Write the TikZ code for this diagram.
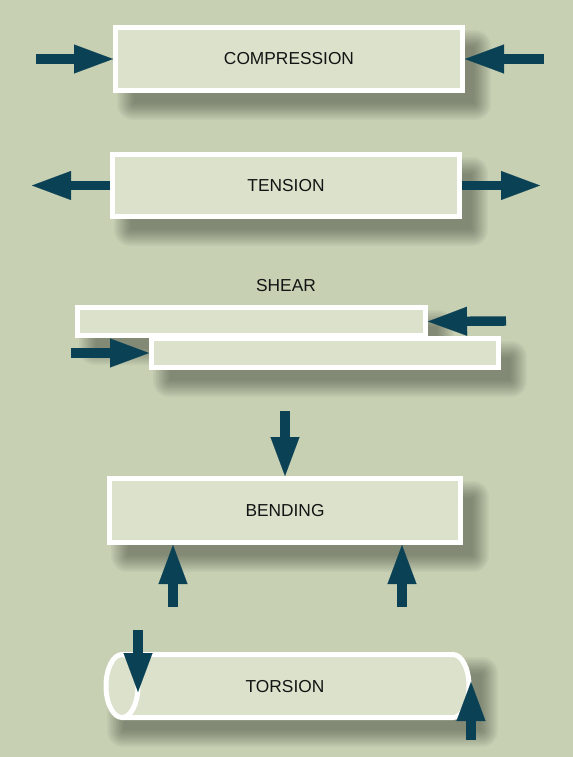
\documentclass[tikz,border=0pt]{standalone}
\usepackage{fontspec}
\setmainfont{Liberation Sans}
\usetikzlibrary{arrows.meta}
\definecolor{bg}{HTML}{C7D0B3}
\definecolor{boxfill}{HTML}{DCE1CC}
\definecolor{forcecol}{HTML}{0B4155}
% soft drop shadow behind a box given by its outer corners (px)
\newcommand{\dropshadow}[4]{%
  \foreach \k in {0,...,11}{%
    \pgfmathsetmacro{\ee}{11-1.5*\k}%
    \pgfmathsetmacro{\rr}{max(\ee+5,1)}%
    \fill[black, fill opacity=0.032, rounded corners=\rr*0.75pt]
      ({#1+15-\ee},{#2+16-\ee}) rectangle ({#3+15+\ee},{#4+16+\ee});
  }}
\begin{document}
\begin{tikzpicture}[x=0.75pt,y=-0.75pt,
  member/.style={rectangle, draw=white, line width=3.75pt, fill=boxfill, inner sep=0pt,
    font=\fontsize{13}{15}\selectfont, text=black!92},
  label/.style={font=\fontsize{13}{15}\selectfont, text=black!92, inner sep=0pt},
  forcearrow/.style={draw=forcecol, line width=7.1pt,
    -{Triangle[length=29.25pt, width=21.75pt, line width=0.1pt]}}]
\useasboundingbox[fill=bg] (0,0) rectangle (573,757);

% shadows
\dropshadow{113}{25}{465}{93}
\dropshadow{110}{152}{462}{219}
\dropshadow{75}{305}{428}{338}
\dropshadow{149}{336}{501}{370}
\dropshadow{107}{476}{463}{545}
\dropshadow{103}{652}{472}{720}

% COMPRESSION
\node[member, minimum width=347*0.75pt, minimum height=63*0.75pt] (comp) at (289,59) {COMPRESSION};
\coordinate (compL) at (36,59);
\coordinate (compR) at (544,59);
\draw[forcearrow] (compL) -- (comp.west);
\draw[forcearrow] (compR) -- (comp.east);

% TENSION
\node[member, minimum width=347*0.75pt, minimum height=62*0.75pt] (tens) at (286,185.5) {TENSION};
\coordinate (tensL) at (32,185.5);
\coordinate (tensR) at (540,185.5);
\draw[forcearrow] (tens.west) -- (tensL);
\draw[forcearrow] (tens.east) -- (tensR);

% SHEAR
\node[label] (shearlbl) at (286,286) {SHEAR};
\node[member, minimum width=348*0.75pt, minimum height=28*0.75pt] (top) at (251.5,321.5) {};
\node[member, minimum width=347*0.75pt, minimum height=29*0.75pt] (bot) at (325,353) {};
\coordinate (shearR) at (506,321);
\coordinate (shearL) at (71,353);
\draw[forcearrow] (shearR) -- (top.east);
\draw[forcearrow] (shearL) -- (bot.west);

% BENDING
\node[member, minimum width=351*0.75pt, minimum height=64*0.75pt] (bend) at (285,510.5) {BENDING};
\coordinate (bendT) at (285,411);
\coordinate (bendL) at (173,607);
\coordinate (bendR) at (402,607);
\draw[forcearrow] (bendT) -- (bend.north);
\draw[forcearrow] (bendL) -- (bendL |- bend.south);
\draw[forcearrow] (bendR) -- (bendR |- bend.south);

% TORSION
\fill[boxfill] (122,654.5) -- (453,654.5)
  arc[start angle=-90, end angle=90, x radius=16, y radius=31.5]
  -- (122,717.5)
  arc[start angle=90, end angle=270, x radius=16, y radius=31.5] -- cycle;
\draw[white, line width=3.75pt] (122,654.5) -- (453,654.5)
  arc[start angle=-90, end angle=90, x radius=16, y radius=31.5]
  -- (122,717.5);
\draw[white, line width=3.75pt] (122,686) ellipse[x radius=16, y radius=31.5];
\node[label] (tors) at (285,687) {TORSION};
\coordinate (torsTtail) at (138,630);
\coordinate (torsTtip) at (138,692);
\coordinate (torsBtail) at (471,740);
\coordinate (torsBtip) at (471,682);
\draw[forcearrow] (torsTtail) -- (torsTtip);
\draw[forcearrow] (torsBtail) -- (torsBtip);
\end{tikzpicture}
\end{document}
